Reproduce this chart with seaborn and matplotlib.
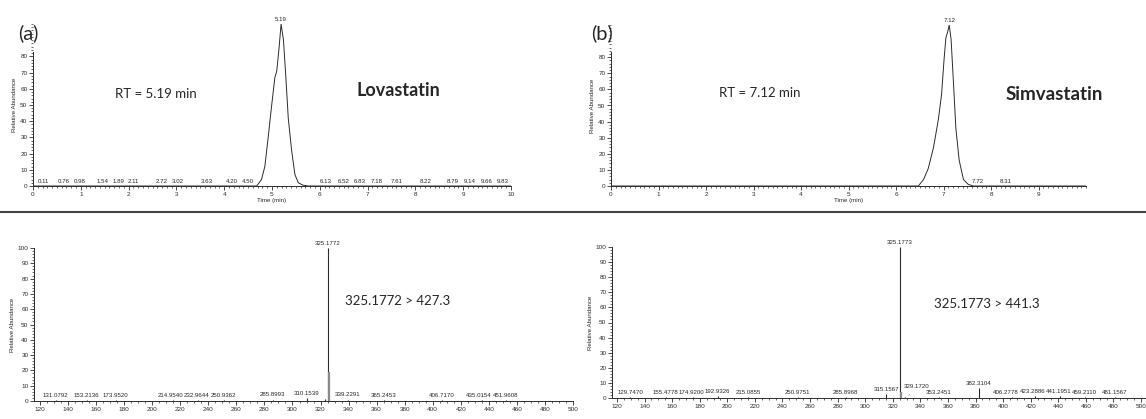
import numpy as np
import pandas as pd
import matplotlib
matplotlib.use('Agg')
import matplotlib.pyplot as plt
from matplotlib.lines import Line2D
from matplotlib.ticker import MultipleLocator
import seaborn as sns

sns.set_style('ticks')
plt.rcParams['font.family'] = ['Liberation Sans Narrow', 'Liberation Sans', 'DejaVu Sans']

# chromatogram traces (time in min, relative abundance)
lova_time = [0, 4.60, 4.68, 4.78, 4.85, 4.92, 4.99, 5.06, 5.10, 5.15, 5.19,
             5.24, 5.29, 5.34, 5.41, 5.48, 5.55, 5.65, 5.76, 10]
lova_abund = [0, 0, 0, 4, 12, 30, 49, 67, 71, 86, 100,
              90, 67, 42, 22, 7, 2, 0.5, 0, 0]
simva_time = [0, 6.40, 6.47, 6.58, 6.68, 6.79, 6.89, 6.96, 7.01, 7.05, 7.09, 7.12,
              7.16, 7.21, 7.26, 7.33, 7.42, 7.52, 7.63, 10]
simva_abund = [0, 0, 0, 4, 11, 24, 41, 57, 78, 92, 96, 100,
               91, 64, 36, 16, 4, 1, 0, 0]

lova_noise = ['0.11', '0.76', '0.98', '1.54', '1.89', '2.11', '2.72', '3.02', '3.63',
              '4.20', '4.50', '6.13', '6.52', '6.83', '7.18', '7.61', '8.22', '8.79',
              '9.14', '9.66', '9.83']
simva_noise = ['7.72', '8.31']

# product ion spectra (m/z, relative abundance)
lova_mz = [131.0792, 153.2136, 173.9520, 214.9540, 232.9644, 250.9362, 285.8993,
           310.1539, 323.2, 325.1772, 326.18, 339.2291, 365.2453, 406.7170,
           435.0154, 451.9608]
lova_int = [0.6, 0.6, 0.5, 0.5, 0.6, 0.6, 0.8, 1.8, 1.2, 100, 19, 0.8, 0.5, 0.5,
            0.5, 0.5]
lova_lab = ['131.0792', '153.2136', '173.9520', '214.9540', '232.9644', '250.9362',
            '285.8993', '310.1539', '', '325.1772', '', '339.2291', '365.2453',
            '406.7170', '435.0154', '451.9608']

simva_mz = [129.7470, 155.4778, 174.9200, 192.9326, 215.0855, 250.9751, 285.8968,
            315.1567, 325.1773, 326.18, 329.1720, 353.2451, 382.3104, 406.2778,
            423.2886, 441.1951, 459.2110, 481.1567]
simva_int = [0.5, 0.5, 0.5, 1.2, 0.5, 0.6, 0.5, 2.5, 100, 4, 0.5, 0.6, 6.5, 0.5,
             1.0, 1.0, 0.6, 0.5]
simva_lab = ['129.7470', '155.4778', '174.9200', '192.9326', '215.0855', '250.9751',
             '285.8968', '315.1567', '325.1773', '', '329.1720', '353.2451',
             '382.3104', '406.2778', '423.2886', '441.1951', '459.2110', '481.1567']

W, H = 1146, 419
fig = plt.figure(figsize=(W / 100, H / 100), dpi=100)
LC = '#2b2b2b'
ann_font = ['Lato', 'DejaVu Sans']
SMALL = 4.4


def px_axes(x0, x1, y_top, y_bot):
    return fig.add_axes([x0 / W, 1 - y_bot / H, (x1 - x0) / W, (y_bot - y_top) / H])


def push_left(vals, gap, lo=None):
    # shift crowded labels leftwards, like the instrument software does
    out = list(vals)
    for i in range(len(out) - 2, -1, -1):
        out[i] = min(out[i], out[i + 1] - gap)
    if lo is not None:
        out[0] = max(out[0], lo)
    return out


def style_axes(ax):
    sns.despine(ax=ax)
    for s in ['left', 'bottom']:
        ax.spines[s].set_linewidth(0.7)
        ax.spines[s].set_color(LC)
    ax.tick_params(which='major', direction='out', length=3, width=0.6,
                   labelsize=SMALL + 0.2, pad=1, colors=LC)
    ax.tick_params(which='minor', direction='out', length=1.6, width=0.5, colors=LC)
    ax.set_ylabel('Relative Abundance', fontsize=SMALL, labelpad=2)


def chromatogram(ax, t, a, peak, noise, xmax_lab):
    df = pd.DataFrame({'t': t, 'a': a})
    sns.lineplot(data=df, x='t', y='a', ax=ax, color=LC, linewidth=0.7)
    ax.set_xlim(0, 10)
    ax.set_ylim(0, 100)
    style_axes(ax)
    ax.spines['left'].set_bounds(0, 83)
    ax.set_yticks(range(0, 81, 10))
    ax.yaxis.set_minor_locator(MultipleLocator(2))
    ax.set_xticks(range(0, xmax_lab + 1))
    ax.xaxis.set_minor_locator(MultipleLocator(0.1))
    ax.set_xlabel('Time (min)', fontsize=SMALL, labelpad=1)
    ax.text(peak, 101, f'{peak:.2f}', ha='center', va='bottom', fontsize=SMALL,
            clip_on=False)
    pos = push_left([float(s) for s in noise], 0.33, lo=0.22)
    for p, lab in zip(pos, noise):
        ax.text(p, 1.2, lab, ha='center', va='bottom', fontsize=SMALL)


def spectrum(ax, mz, inten, labels, xlim, iso_mz):
    mz = np.array(mz)
    inten = np.array(inten)
    iso = np.isclose(mz, iso_mz)
    ax.vlines(mz[~iso], 0, inten[~iso], color=LC, lw=0.8)
    ax.vlines(mz[iso], 0, inten[iso], color='#8a8a8a', lw=1.6)
    ax.set_xlim(*xlim)
    ax.set_ylim(0, 100)
    style_axes(ax)
    ax.set_yticks(range(0, 101, 10))
    ax.yaxis.set_minor_locator(MultipleLocator(2))
    ax.set_xticks(range(120, 501, 20))
    ax.xaxis.set_minor_locator(MultipleLocator(5))

    low = [(m, h, lab) for m, h, lab in zip(mz, inten, labels)
           if lab and h < 10 and lab != '329.1720']
    pos = push_left([m for m, _, _ in low], 19)
    for p, (m, h, lab) in zip(pos, low):
        ax.text(p, h + 1.5, lab, ha='center', va='bottom', fontsize=SMALL)
    for m, h, lab in zip(mz, inten, labels):
        if lab and h >= 10:
            ax.text(m, h + 1.5, lab, ha='center', va='bottom', fontsize=SMALL,
                    clip_on=False)
        elif lab == '329.1720':
            ax.annotate(lab, xy=(m + 1.2, 0.3), xytext=(m + 8, 6), fontsize=SMALL,
                        ha='center', va='bottom',
                        arrowprops=dict(arrowstyle='-', color='#8fe08f', lw=0.7))


ax1 = px_axes(33, 511, 24, 186)
chromatogram(ax1, lova_time, lova_abund, 5.19, lova_noise, 10)
ax2 = px_axes(611, 1086, 25, 186)
chromatogram(ax2, simva_time, simva_abund, 7.12, simva_noise, 9)

ax3 = px_axes(34, 573, 248, 401)
spectrum(ax3, lova_mz, lova_int, lova_lab, (115.7, 500), 326.18)
ax4 = px_axes(612, 1146, 247, 398)
spectrum(ax4, simva_mz, simva_int, simva_lab, (116.4, 503.6), 326.18)


def ftext(x, y, s, **kw):
    fig.text(x / W, 1 - y / H, s, va='center', **kw)


ftext(18, 33, '(a)', fontsize=14.5, family=ann_font)
ftext(591, 33, '(b)', fontsize=14.5, family=ann_font)
ftext(115, 94, 'RT = 5.19 min', fontsize=9.5, family=ann_font)
ftext(719, 93, 'RT = 7.12 min', fontsize=9.5, family=ann_font)
ftext(357, 91, 'Lovastatin', fontsize=13, fontweight='bold', family=ann_font)
ftext(1006, 94, 'Simvastatin', fontsize=13.5, fontweight='bold', family=ann_font)
ftext(345, 301, '325.1772 > 427.3', fontsize=9.5, family=ann_font)
ftext(934, 304, '325.1773 > 441.3', fontsize=9.5, family=ann_font)

fig.add_artist(Line2D([0, 1], [1 - 212 / H] * 2, color='#444444', lw=1.5))

fig.savefig('out.png', dpi=100)
